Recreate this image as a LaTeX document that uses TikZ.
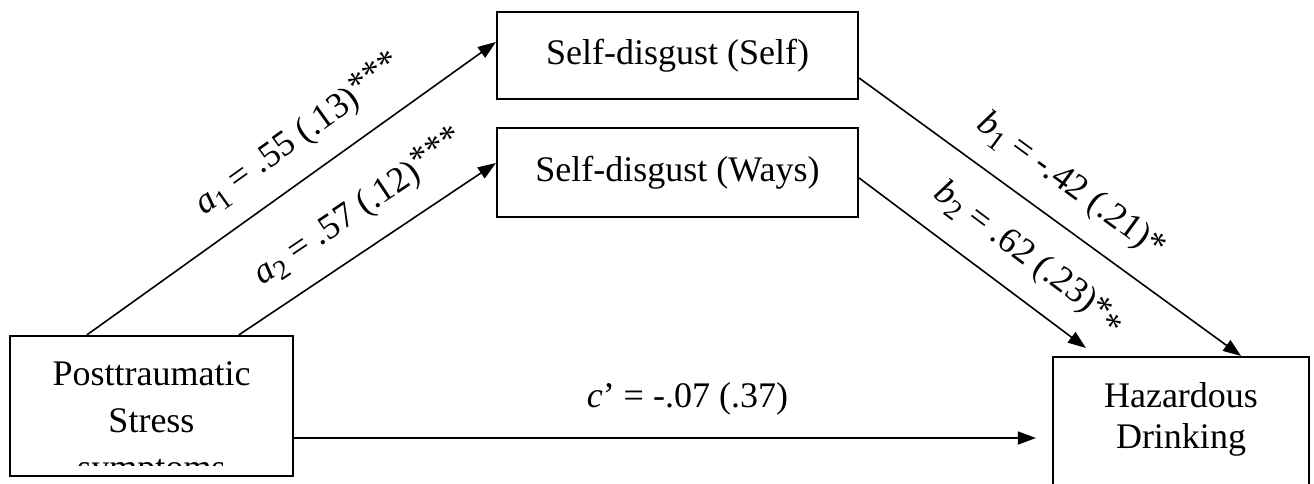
\documentclass[tikz,border=0pt]{standalone}
\usepackage{fontspec}
\setmainfont{Liberation Serif}
\usetikzlibrary{arrows.meta, positioning}
\newcommand{\lowidx}[1]{\raisebox{-0.45ex}{\fontsize{14}{14}\selectfont #1}}

\begin{document}
\begin{tikzpicture}[x=0.5pt, y=-0.5pt, >={Triangle[length=9pt, width=6.5pt]},
    box/.style={draw, line width=1.1pt, inner sep=0pt, align=center, font=\fontsize{18}{23.5}\selectfont},
    txt/.style={inner sep=0pt, align=center},
    conn/.style={->, line width=0.8pt},
    lbl/.style={sloped, above=10pt, inner sep=0pt, font=\fontsize{18}{22}\selectfont}]
  \clip (0,0) rectangle (1314,483);
  \node[box, minimum width=141.5pt, minimum height=70pt] (ptsd) at (151.5,406) {};
  \begin{scope}
    \clip (10,336) rectangle (293,465);
    \node[txt, font=\fontsize{18}{23.5}\selectfont] (ptsdtext) at (151.5,424) {Posttraumatic\\Stress\\symptoms};
  \end{scope}
  \node[box, minimum width=180.5pt, minimum height=43.5pt] (self) at (677.5,55.5) {Self-disgust (Self)};
  \node[box, minimum width=180.5pt, minimum height=44.5pt] (ways) at (677.5,172.5) {Self-disgust (Ways)};
  \node[box, minimum width=128pt, minimum height=70pt, anchor=north] (hd) at (1181,356) {};
  \node[txt, font=\fontsize{18}{20.5}\selectfont] (hdtext) at (1181,419) {Hazardous\\Drinking};

  \draw[conn] ([xshift=39pt]ptsd.north west) -- node[lbl, pos=0.574] {\textit{a}\lowidx{1} = .55 (.13)\raisebox{0.35ex}{***}} ([yshift=6.75pt]self.west);
  \draw[conn] ([xshift=115pt]ptsd.north west) -- node[lbl, pos=0.552] {\textit{a}\lowidx{2} = .57 (.12)\raisebox{0.35ex}{***}} ([yshift=4.75pt]ways.west);
  \draw[conn] ([yshift=-11.25pt]self.east) -- node[lbl, pos=0.497] {\textit{b}\lowidx{1} = -.42 (.21)*} ([xshift=-34.5pt]hd.north east);
  \draw[conn] ([yshift=-2.75pt]ways.east) -- node[lbl, pos=0.651] {\textit{b}\lowidx{2} = .62 (.23)*\raisebox{-0.5ex}{*}} ([xshift=17pt, yshift=4pt]hd.north west);
  \draw[conn, shorten >=8pt] ([yshift=-16pt]ptsd.east) -- node[lbl, above=11pt, sloped=false, pos=0.519] {\textit{c}’ = -.07 (.37)} ([yshift=-16pt]ptsd.east -| hd.west);
\end{tikzpicture}
\end{document}
